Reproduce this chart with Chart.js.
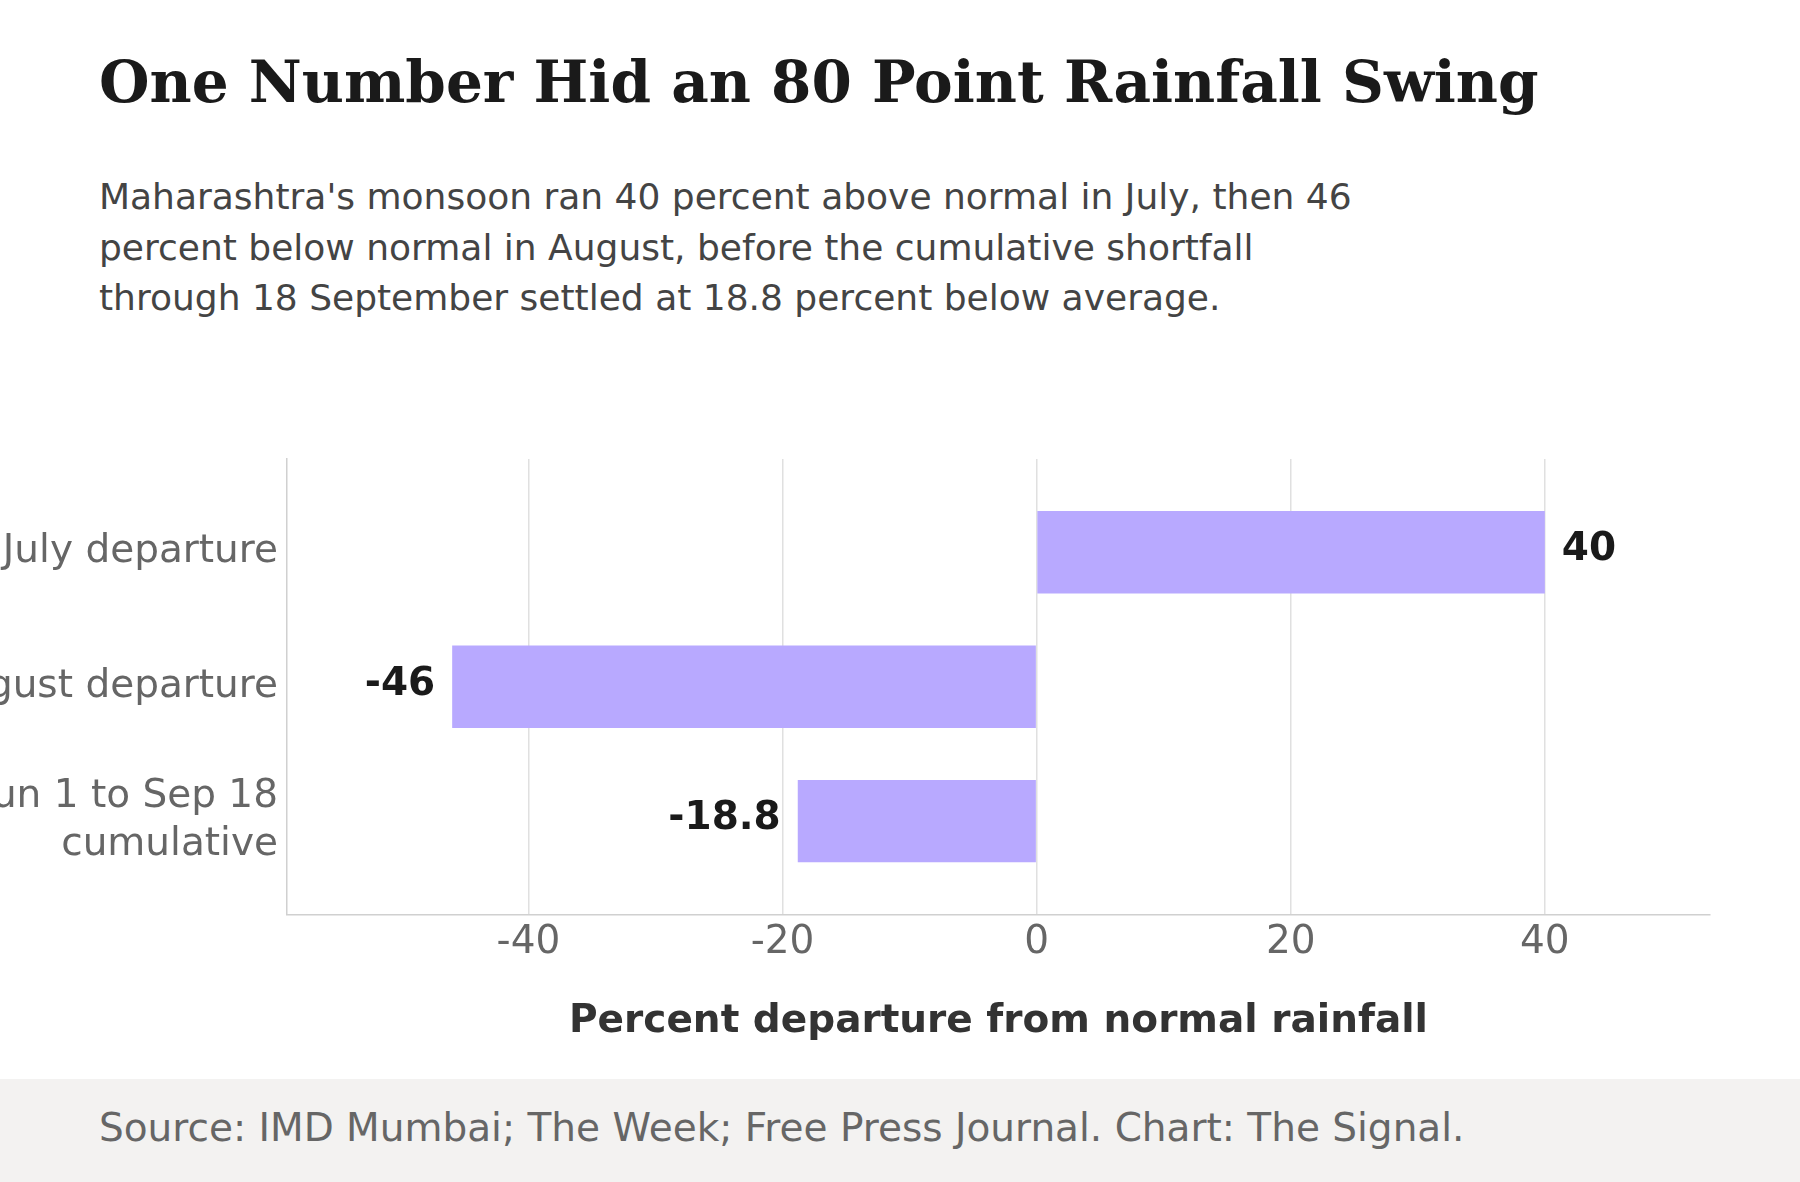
<!DOCTYPE html>
<html><head><meta charset="utf-8">
<script src="https://cdn.jsdelivr.net/npm/chart.js@4"></script>
<style>
html,body{margin:0;width:1800px;height:1182px;overflow:hidden;background:#fff;font-family:"DejaVu Sans",sans-serif;position:relative}
h1{position:absolute;left:99px;top:48px;margin:0;font:bold 58px "DejaVu Serif",serif;color:#1a1a1a}
#sub{position:absolute;left:99px;top:172px;margin:0;font-size:36px;line-height:50.5px;color:#444;width:1400px}
#wrap{position:absolute;left:-160px;top:410px;width:1900px;height:639px}
#foot{position:absolute;left:0;top:1079px;width:1800px;height:103px;background:#f3f2f1}
#foot p{margin:0;position:absolute;left:99px;top:26px;font-size:39px;color:#666}
</style></head><body>
<h1>One Number Hid an 80 Point Rainfall Swing</h1>
<p id="sub">Maharashtra's monsoon ran 40 percent above normal in July, then 46<br>percent below normal in August, before the cumulative shortfall<br>through 18 September settled at 18.8 percent below average.</p>
<div id="wrap"><canvas id="c"></canvas></div>
<div id="foot"><p>Source: IMD Mumbai; The Week; Free Press Journal. Chart: The Signal.</p></div>
<script>
const categories = [["July departure"], ["August departure"], ["Jun 1 to Sep 18", "cumulative"]];
const departures = [40, -46, -18.8];
const valueLabels = ["40", "-46", "-18.8"];
const xTicks = [-40, -20, 0, 20, 40];

Chart.defaults.font.family = "'DejaVu Sans', sans-serif";

const labelPlugin = {
  id: "valueLabels",
  afterDatasetsDraw(chart) {
    const ctx = chart.ctx;
    const meta = chart.getDatasetMeta(0);
    ctx.save();
    ctx.font = "bold 39px 'DejaVu Sans'";
    ctx.fillStyle = "#1a1a1a";
    ctx.textBaseline = "middle";
    meta.data.forEach((bar, i) => {
      const neg = departures[i] < 0;
      ctx.textAlign = neg ? "right" : "left";
      ctx.fillText(valueLabels[i], bar.x + (neg ? -17 : 17), bar.y - 2);
    });
    ctx.restore();
  }
};

new Chart(document.getElementById("c"), {
  type: "bar",
  data: {
    labels: categories,
    datasets: [{ data: departures, backgroundColor: "#b8a9ff", barPercentage: 0.613, categoryPercentage: 1 }]
  },
  options: {
    indexAxis: "y",
    responsive: true,
    maintainAspectRatio: false,
    animation: false,
    layout: { padding: { top: 37, right: 30 } },
    plugins: { legend: { display: false }, tooltip: { enabled: false } },
    scales: {
      x: {
        min: -59, max: 53,
        afterBuildTicks: (s) => { s.ticks = xTicks.map((v) => ({ value: v })); },
        ticks: { color: "#666", font: { size: 39 }, padding: 5 },
        grid: { color: "#e0e0e0", lineWidth: 1.5, drawTicks: false },
        border: { color: "#d0d0d0", width: 1.5 },
        title: { display: true, text: "Percent departure from normal rainfall", color: "#333", font: { size: 39, weight: "bold" }, padding: { top: 27 } }
      },
      y: {
        offset: false,
        afterBuildTicks: (s) => { s._startValue = -0.694; s._valueRange = 3.388; },
        afterFit: (s) => { s.width = 447; },
        ticks: { color: "#666", font: { size: 39, lineHeight: 1.23 }, padding: 1 },
        grid: { display: false },
        border: { color: "#d0d0d0", width: 1.5 }
      }
    }
  },
  plugins: [labelPlugin]
});
</script>
</body></html>
